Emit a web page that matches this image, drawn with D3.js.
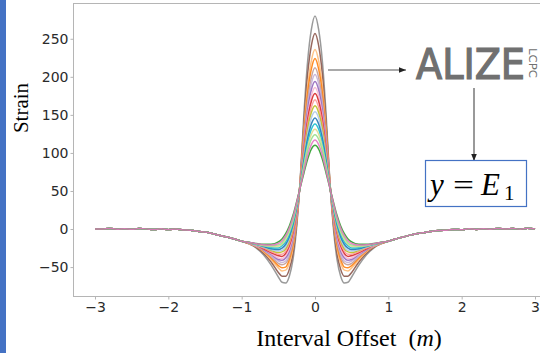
<!DOCTYPE html>
<html>
<head>
<meta charset="utf-8">
<script src="https://cdn.jsdelivr.net/npm/d3@7"></script>
<style>
  html, body { margin: 0; padding: 0; background: #fff; }
  svg { display: block; }
</style>
</head>
<body>
<svg id="chart" width="540" height="353"></svg>
<script>
// ---- data ----
const xTicks = [-3, -2, -1, 0, 1, 2, 3];
const yTicks = [-50, 0, 50, 100, 150, 200, 250];
// half-profile offsets (curves are symmetric about 0)
const coreOffsets = [0, 0.05, 0.1, 0.15, 0.2, 0.25, 0.3, 0.35, 0.4, 0.45, 0.5, 0.6, 0.7, 0.8, 0.9, 1.0];
// shared far-field tails (all curves overlap there)
const tailOffsets = [1.1, 1.2, 1.3, 1.4, 1.5, 1.6, 1.7, 1.8, 1.9, 2.0, 2.1, 2.2, 2.3, 2.4, 2.5, 2.6, 2.7, 2.8, 2.9, 3.0];
const tailRight = [-13, -10.5, -8, -6, -4.5, -3, -2, -1.5, -0.5, -1, 0.5, -0.5, 0.5, -0.3, 0.8, 0, 0.6, -0.2, 1, 0];
const tailLeft  = [-13, -10.5, -8.5, -6, -4, -3, -1.5, -1.2, 0, -0.8, 0.3, -0.6, 0.2, 0.6, -0.4, 0.5, -0.2, 0.8, 0.2, 0];

const curve01 = [280, 262, 221, 153, 68, 2, -40, -62, -71, -70, -63, -47, -34, -25, -19.5, -16];
const curve02 = [257, 241, 204, 142, 66, 7, -32, -53, -62, -62, -57, -43, -32, -24, -19, -16];
const curve03 = [236, 221, 188, 133, 65, 11, -25, -45, -54, -55, -51, -40, -30, -23, -19, -16];
const curve04 = [224, 210, 179, 127, 64, 13, -21, -40, -50, -51, -48, -38, -29, -23, -19, -16];
const curve05 = [212, 199, 169, 121, 63, 16, -17, -36, -45, -47, -45, -36, -28, -23, -19, -16];
const curve06 = [203, 191, 163, 117, 62, 17, -14, -32, -42, -44, -42, -35, -28, -22, -18.6, -16];
const curve07 = [194, 183, 156, 113, 61, 19, -11, -29, -38, -41, -40, -33, -27, -22, -18.5, -16];
const curve08 = [186, 175, 150, 109, 61, 21, -8, -26, -35, -39, -38, -32, -26, -22, -18.4, -16];
const curve09 = [178, 168, 144, 106, 60, 22, -5, -22, -32, -36, -35, -31, -26, -21, -18.3, -16];
const curve10 = [170, 160, 138, 102, 60, 24, -2.5, -19, -29, -33, -33, -29.5, -25, -21, -18.2, -16];
const curve11 = [162, 153, 132, 98, 59, 26, 0, -16, -26, -30, -31, -28, -24, -21, -18.1, -16];
const curve12 = [154, 146, 125, 95, 58, 27, 3, -13, -23, -28, -29, -27, -24, -21, -18, -16];
const curve13 = [146, 138, 119, 91, 58, 29, 6, -10, -20, -25, -27, -26, -23, -20, -17.9, -16];
const curve14 = [138, 131, 113, 87, 57, 30, 8, -7, -17, -22, -25, -24.5, -22, -20, -17.8, -16];
const curve15 = [131, 124.5, 108, 84, 57, 32, 11, -4, -14, -20, -23, -23, -22, -19.7, -17.7, -16];
const curve16 = [124, 118, 103, 80, 56, 33, 13, -1.5, -11, -18, -21, -22, -21, -19.5, -17.6, -16];
const curve17 = [117, 111, 97, 77, 55.5, 34.6, 15.6, 1.3, -8.7, -15.3, -19, -21, -20.6, -19.2, -17.6, -16];
const curve18 = [110, 105, 92, 74, 55, 36, 18, 4, -6, -13, -17, -20, -20, -19, -17.5, -16];

const curveColors = ["#8f8f8f", "#8c564b", "#ffbb78", "#ff7f0e", "#c49c94", "#c5b0d5", "#9467bd",
                     "#f7b6d2", "#d62728", "#ff9896", "#bcbd22", "#aec7e8", "#1f77b4", "#17becf",
                     "#dbdb8d", "#98df8a", "#e377c2", "#2ca02c"];

// ---- build ----
const allCurves = [curve01, curve02, curve03, curve04, curve05, curve06, curve07, curve08, curve09,
                   curve10, curve11, curve12, curve13, curve14, curve15, curve16, curve17, curve18];

function buildPoints(vals) {
  const pts = [];
  for (let i = tailOffsets.length - 1; i >= 0; i--) pts.push([-tailOffsets[i], tailLeft[i]]);
  for (let i = coreOffsets.length - 1; i >= 1; i--) pts.push([-coreOffsets[i], vals[i]]);
  for (let i = 0; i < coreOffsets.length; i++) pts.push([coreOffsets[i], vals[i]]);
  for (let i = 0; i < tailOffsets.length; i++) pts.push([tailOffsets[i], tailRight[i]]);
  return pts;
}

(function draw() {
const svg = d3.select("#chart");
const W = 540, H = 353;
const pL = 73, pR = 557, pT = 3, pB = 296;

const x = d3.scaleLinear().domain([-3.3, 3.3]).range([pL, pR]);
const y = d3.scaleLinear().domain([-88, 297]).range([pB, pT]);

// left blue band
svg.append("rect").attr("x", 0).attr("y", 0).attr("width", 6).attr("height", H).attr("fill", "#4472c4");

// spines
const spine = "#b5b5b5";
svg.append("line").attr("x1", pL).attr("x2", pR).attr("y1", pT + 0.5).attr("y2", pT + 0.5).attr("stroke", spine);
svg.append("line").attr("x1", pL).attr("x2", pR).attr("y1", pB + 0.5).attr("y2", pB + 0.5).attr("stroke", spine);
svg.append("line").attr("x1", pL + 0.5).attr("x2", pL + 0.5).attr("y1", pT).attr("y2", pB).attr("stroke", spine);

// axes
const fmt = d3.format("d");
const yAxis = svg.append("g").attr("transform", `translate(${pL + 0.5},0)`)
  .call(d3.axisLeft(y).tickValues(yTicks).tickFormat(fmt).tickSize(3).tickPadding(2));
const xAxis = svg.append("g").attr("transform", `translate(0,${pB + 0.5})`)
  .call(d3.axisBottom(x).tickValues(xTicks).tickFormat(fmt).tickSize(3).tickPadding(3));
[yAxis, xAxis].forEach(g => {
  g.select(".domain").remove();
  g.selectAll(".tick line").attr("stroke", spine);
  g.selectAll(".tick text").attr("fill", "#2a2a2a").style("font-family", "DejaVu Sans").style("font-size", "14px");
});

// curves
const line = d3.line().x(d => x(d[0])).y(d => y(d[1])).curve(d3.curveMonotoneX);
const order = d3.range(allCurves.length).filter(i => curveColors[i] !== "#e377c2");
order.push(curveColors.indexOf("#e377c2"));
const g = svg.append("g");
order.forEach(i => {
  g.append("path").datum(buildPoints(allCurves[i]))
    .attr("d", line).attr("fill", "none")
    .attr("stroke", curveColors[i]).attr("stroke-width", 1.5).attr("stroke-opacity", 0.9);
});

// axis titles
svg.append("text").attr("transform", "translate(28,108) rotate(-90)")
  .attr("text-anchor", "middle").style("font-family", "Liberation Serif").style("font-size", "21px")
  .attr("fill", "#000").text("Strain");
const xt = svg.append("text").attr("x", 349).attr("y", 346).attr("text-anchor", "middle")
  .style("font-family", "Liberation Serif").style("font-size", "24px").attr("fill", "#000");
xt.append("tspan").text("Interval Offset\u00a0\u00a0(");
xt.append("tspan").style("font-style", "italic").text("m");
xt.append("tspan").text(")");

// annotation: arrows
svg.append("defs").append("marker").attr("id", "ah").attr("viewBox", "0 0 10 10")
  .attr("refX", 10).attr("refY", 5).attr("markerWidth", 6).attr("markerHeight", 6)
  .attr("orient", "auto").append("path").attr("d", "M0,1 L10,5 L0,9 Z").attr("fill", "#222");
svg.append("line").attr("x1", 328).attr("y1", 70).attr("x2", 406).attr("y2", 70)
  .attr("stroke", "#555").attr("stroke-width", 1.2).attr("marker-end", "url(#ah)");
svg.append("line").attr("x1", 474).attr("y1", 88).attr("x2", 474).attr("y2", 161)
  .attr("stroke", "#555").attr("stroke-width", 1.2).attr("marker-end", "url(#ah)");

// ALIZE logo text
svg.append("text").attr("x", 416).attr("y", 79).attr("textLength", 109).attr("lengthAdjust", "spacingAndGlyphs")
  .style("font-family", "DejaVu Sans Condensed, DejaVu Sans").style("font-size", "43px")
  .attr("fill", "#707070").attr("stroke", "#707070").attr("stroke-width", 1.2).text("ALIZE");
svg.append("text").attr("transform", "translate(529,48) rotate(90)")
  .attr("textLength", 30).attr("lengthAdjust", "spacingAndGlyphs")
  .style("font-family", "DejaVu Sans Condensed, DejaVu Sans").style("font-size", "10px")
  .attr("fill", "#707070").text("LCPC");

// formula box
svg.append("rect").attr("x", 425.5).attr("y", 160.5).attr("width", 101).attr("height", 46)
  .attr("fill", "#fff").attr("stroke", "#4472c4").attr("stroke-width", 1.2);
const fs = svg.append("g").style("font-family", "Liberation Serif").attr("fill", "#000");
fs.append("text").attr("x", 430).attr("y", 195).style("font-size", "31px").style("font-style", "italic").text("y");
fs.append("text").attr("x", 453).attr("y", 195).style("font-size", "30px")
  .attr("textLength", 21).attr("lengthAdjust", "spacingAndGlyphs").text("=");
fs.append("text").attr("x", 481).attr("y", 195).style("font-size", "31px").style("font-style", "italic").text("E");
fs.append("text").attr("x", 504).attr("y", 200).style("font-size", "21px").text("1");
})();
</script>
</body>
</html>
